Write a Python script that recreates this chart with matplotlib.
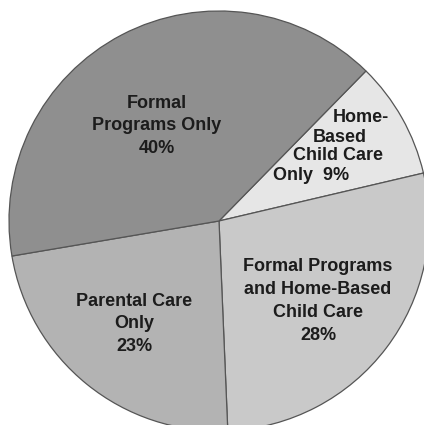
import matplotlib
matplotlib.use("Agg")
import matplotlib.pyplot as plt

# Slices, clockwise from the upper-right boundary
labels = [
    "Home-Based Child Care Only",
    "Formal Programs and Home-Based Child Care",
    "Parental Care Only",
    "Formal Programs Only",
]
shares = [9, 28, 23, 40]
colors = ["#e6e6e6", "#c9c9c9", "#b3b3b3", "#8f8f8f"]


def main():
    fig = plt.figure(figsize=(4.24, 4.25), dpi=100)
    ax = fig.add_axes([0, 0, 1, 1])

    ax.pie(
        shares,
        colors=colors,
        startangle=45.6,
        counterclock=False,
        radius=1.0,
        wedgeprops=dict(edgecolor="#555555", linewidth=0.9),
    )

    # keep the pie where it sits in the picture (center ~ (219, 221) px, r ~ 210 px)
    ax.set_xlim(-219 / 210, (424 - 219) / 210)
    ax.set_ylim(-(425 - 221) / 210, 221 / 210)
    ax.set_aspect("auto")
    ax.axis("off")

    font = dict(family="Liberation Sans", weight="bold", size=13, color="#1c1c1c")

    def px(x, y):
        return (x - 219) / 210, (221 - y) / 210

    # Formal programs only
    ax.text(*px(157, 126), "Formal\nPrograms Only\n40%", ha="center", va="center",
            linespacing=1.45, **font)

    # Home-based, stepped lines
    hb_lines = ["Home-", "Based", "Child Care", "Only  9%"]
    hb_pos = [(361, 118), (340, 137), (338, 156), (311, 176)]
    for txt, (x, y) in zip(hb_lines, hb_pos):
        ax.text(*px(x, y), txt, ha="center", va="center", **font)

    # Formal programs and home-based
    ax.text(*px(318, 301), "Formal Programs\nand Home-Based\nChild Care\n28%", ha="center",
            va="center", linespacing=1.45, **font)

    # Parental care only
    ax.text(*px(134, 324), "Parental Care\nOnly\n23%", ha="center", va="center",
            linespacing=1.45, **font)

    fig.savefig("out.png", dpi=100, facecolor="white")


if __name__ == "__main__":
    main()
